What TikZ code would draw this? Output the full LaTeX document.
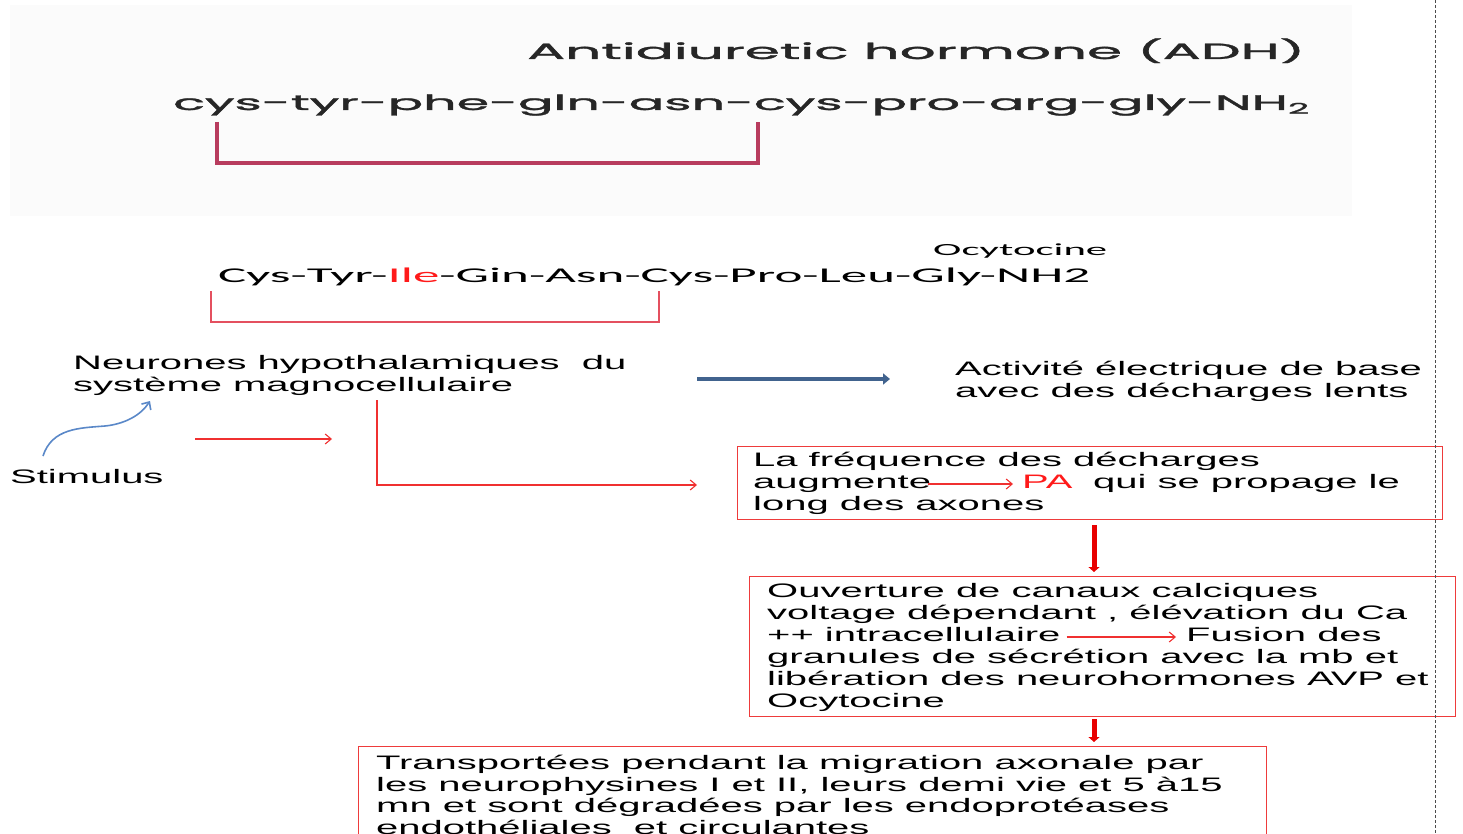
\documentclass[tikz,border=0pt]{standalone}
\usepackage{fontspec}
\usepackage{graphicx}
\setmainfont{Liberation Sans}[FakeStretch=2.05]
\newfontfamily\calib{Carlito}
\newfontfamily\geo{Poppins}[FakeBold=1.2]
\usetikzlibrary{arrows.meta}
\definecolor{boxred}{HTML}{EE3B3B}
\definecolor{arrred}{HTML}{F03030}
\definecolor{thred}{HTML}{E80000}
\definecolor{adhred}{HTML}{B83C5E}
\definecolor{oxred}{HTML}{E4505F}
\definecolor{bluearr}{HTML}{41638E}
\definecolor{lightblue}{HTML}{5A88C8}
\definecolor{txtred}{HTML}{FF1A1A}
\tikzset{
  txt/.style={anchor=base west, inner sep=0pt, font=\fontsize{19.5}{22}\selectfont},
  redbox/.style={draw=boxred, line width=1.3pt, anchor=north west, inner sep=0pt},
  tarrow/.style={draw=arrred, line width=1.1pt, -{Straight Barb[length=6pt,width=10pt]}},
  tharrow/.style={draw=thred, line width=5pt, -{Triangle[length=5pt,width=11pt]}},
  barrow/.style={draw=bluearr, line width=4.5pt, -{Triangle[length=7pt,width=11pt]}},
  carrow/.style={draw=lightblue, line width=1.6pt, -{Straight Barb[length=6pt,width=11pt]}},
  adhbr/.style={draw=adhred, line width=4pt},
  oxbr/.style={draw=oxred, line width=1.8pt},
}
\begin{document}
\begin{tikzpicture}[x=1pt,y=-1pt]
\useasboundingbox (0,0) rectangle (1463,834);
% top pasted image region
\fill[black!1.5] (10,5) rectangle (1352,216);
\node[anchor=base west, inner sep=0pt, text=black!85, font=\geo\fontsize{22}{22}\selectfont] (adhtitle) at (527,59)
  {\resizebox{778pt}{\height}{Antidiuretic hormone (ADH)}};
\node[anchor=base west, inner sep=0pt, text=black!85, font=\geo\fontsize{21}{21}\selectfont] (adhseq) at (173,110)
  {\resizebox{1137pt}{\height}{cys-tyr-phe-gln-asn-cys-pro-arg-gly-NH\textsubscript{2}}};
\draw[adhbr] (217,122) -- (217,163) -- (758,163) -- (758,122);
% ocytocine
\node[anchor=base west, inner sep=0pt, font=\calib\fontsize{17}{17}\selectfont] (ocyt) at (933,256)
  {\resizebox{174pt}{\height}{Ocytocine}};
\node[anchor=base west, inner sep=0pt, font=\calib\fontsize{21}{21}\selectfont] (oxseq) at (218,282)
  {\resizebox{872pt}{\height}{Cys-Tyr-\textcolor{txtred}{Ile}-Gin-Asn-Cys-Pro-Leu-Gly-NH2}};
\draw[oxbr] (211,291) -- (211,322) -- (659,322) -- (659,291);
% neurones
\node[txt] (neur1) at (73,369) {Neurones hypothalamiques~ du};
\node[txt] (neur2) at (73,391) {système magnocellulaire};
\node[txt] (act1) at (955,375) {Activité électrique de base};
\node[txt] (act2) at (955,397) {avec des décharges lents};
\coordinate (ba1) at (697,379);
\coordinate (ba2) at (890,379);
\draw[barrow] (ba1) -- (ba2);
\node[txt] (stim) at (10,483) {Stimulus};
\coordinate (cv1) at (43,456);
\coordinate (cv2) at (150,401);
\draw[carrow] (cv1) .. controls (52,428) and (80,428) .. (105,426) .. controls (125,424) and (141,415) .. (cv2);
\coordinate (ra1) at (195,439);
\coordinate (ra2) at (332,439);
\draw[tarrow] (ra1) -- (ra2);
\coordinate (la1) at (377,400);
\coordinate (la2) at (697,485);
\draw[tarrow] (la1) |- (la2);
% box 1
\node[redbox, minimum width=705pt, minimum height=73pt] (box1) at (737,446) {};
\node[txt] (b1l1) at (753,466) {La fréquence des décharges};
\node[txt] (b1l2) at (753,488) {augmente};
\node[txt, text=txtred] (b1pa) at (1022,488) {PA};
\node[txt] (b1l2b) at (1093,488) {qui se propage le};
\node[txt] (b1l3) at (753,510) {long des axones};
\draw[tarrow] ([xshift=-3pt,yshift=4pt]b1l2.base east) -- ([xshift=-9pt,yshift=4pt]b1pa.base west);
% arrow 1
\coordinate (ax) at (1094,0);
\node[redbox, minimum width=706pt, minimum height=140pt] (box2) at (749,576) {};
\draw[tharrow] ([yshift=-5pt]box1.south -| ax) -- ([yshift=4pt]box2.north -| ax);
\node[txt] (b2l1) at (767,597) {Ouverture de canaux calciques};
\node[txt] (b2l2) at (767,619) {voltage dépendant , élévation du Ca};
\node[txt] (b2l3) at (767,641) {++ intracellulaire};
\node[txt] (b2l3b) at (1186,641) {Fusion des};
\node[txt] (b2l4) at (767,663) {granules de sécrétion avec la mb et};
\node[txt] (b2l5) at (767,685) {libération des neurohormones AVP et};
\node[txt] (b2l6) at (767,707) {Ocytocine};
\draw[tarrow] ([xshift=6pt,yshift=4pt]b2l3.base east) -- ([xshift=-10pt,yshift=4pt]b2l3b.base west);
% box 3
\node[redbox, minimum width=908pt, minimum height=120pt] (box3) at (358,746) {};
\draw[tharrow] ([yshift=-2pt]box2.south -| ax) -- ([yshift=4pt]box3.north -| ax);
\node[txt] (b3l1) at (376,769) {Transportées pendant la migration axonale par};
\node[txt] (b3l2) at (376,791) {les neurophysines I et II, leurs demi vie et 5 à15};
\node[txt] (b3l3) at (376,812) {mn et sont dégradées par les endoprotéases};
\node[txt] (b3l4) at (376,834) {endothéliales~ et circulantes};
% dashed margin line
\draw[black!70, line width=0.8pt, dash pattern=on 3pt off 2pt] (1435,0) -- (1435,834);
\end{tikzpicture}
\end{document}
